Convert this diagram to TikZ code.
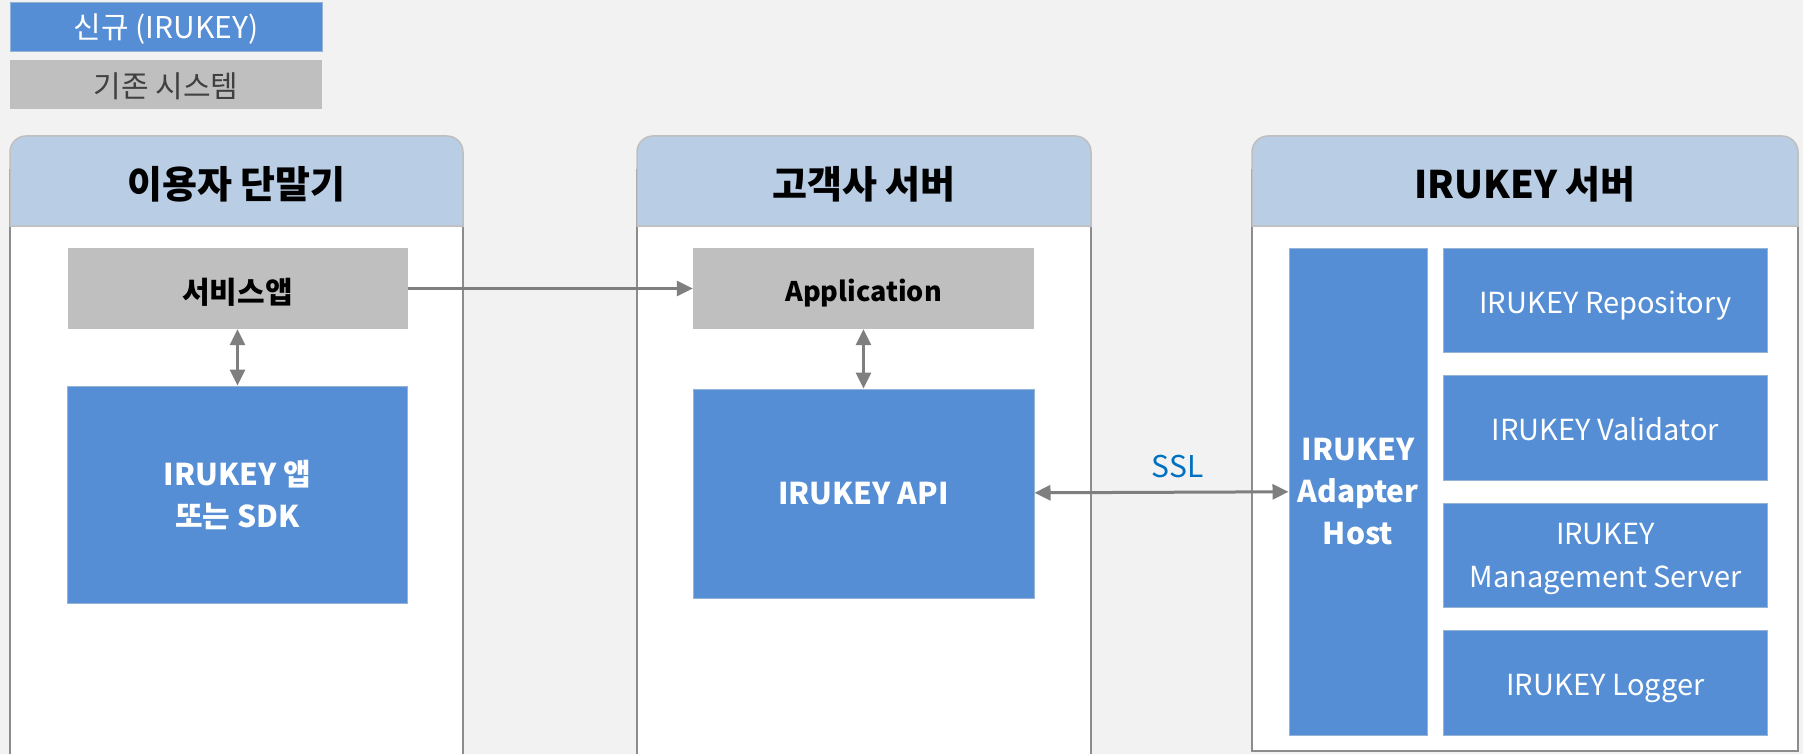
\documentclass[tikz,border=0pt]{standalone}
\usepackage{fontspec}
\setmainfont{Noto Sans CJK KR}
\usetikzlibrary{arrows.meta}
\definecolor{bggray}{HTML}{F2F2F2}
\definecolor{irublue}{HTML}{558ED5}
\definecolor{iruline}{HTML}{95B3D7}
\definecolor{oldgray}{HTML}{BFBFBF}
\definecolor{headblue}{HTML}{B9CDE5}
\definecolor{headline}{HTML}{BFBFBF}
\definecolor{bodyline}{HTML}{8C8C8C}
\definecolor{arrowgray}{HTML}{7F7F7F}
\definecolor{ssltext}{HTML}{0070C0}
\definecolor{legtext}{HTML}{404040}
\tikzset{
    newbox/.style={fill=irublue, draw=iruline, line width=1pt, text=white, align=center, inner sep=0pt},
    oldbox/.style={fill=oldgray, align=center, inner sep=0pt},
    panelbody/.style={fill=white, draw=bodyline, line width=2pt},
    panelhead/.style={fill=headblue, draw=headline, line width=1.5pt},
    headtext/.style={font=\fontsize{38}{44}\selectfont\bfseries},
    legfont/.style={font=\fontsize{30}{36}\selectfont},
    leftfont/.style={font=\fontsize{30}{42}\selectfont\bfseries},
    modfont/.style={font=\fontsize{29}{43}\selectfont},
    capline/.style={text height=#1, text depth=0pt},
    oneline/.style={capline=25.5pt},
    twoline/.style={text depth=0pt},
    conn/.style={draw=arrowgray, line width=3pt, -{Triangle[length=16pt,width=15pt]}},
    biconn/.style={draw=arrowgray, line width=3pt, {Triangle[length=16pt,width=15pt]}-{Triangle[length=16pt,width=15pt]}},
}
\begin{document}
\begin{tikzpicture}[x=1pt,y=-1pt]
    \useasboundingbox (0,0) rectangle (1803,754);
    \fill[bggray] (0,0) rectangle (1803,754);
    \node[newbox, legfont, capline=22pt, minimum width=312pt, minimum height=49pt] (legnew) at (166,27.5) {신규 (IRUKEY)};
    \node[oldbox, legfont, capline=26pt, text=legtext, minimum width=312pt, minimum height=49pt] (legold) at (166,84.5) {기존 시스템};
    \foreach \a/\b/\bot/\name/\title in {10/463/780/user/{이용자 단말기}, 637/1091/780/client/{고객사 서버}, 1252/1798/751/iruserver/{IRUKEY 서버}} {
        \draw[panelbody] (\a,170) rectangle (\b,\bot);
        \draw[panelhead] (\a,226) -- (\a,152) arc[start angle=180, end angle=270, radius=16]
            -- ({\b-16},136) arc[start angle=270, end angle=360, radius=16] -- (\b,226) -- cycle;
        \node[headtext] (\name) at ({(\a+\b)/2},184) {\title};
    }
    \node[oldbox, font=\fontsize{30}{36}\selectfont\bfseries, capline=30pt, minimum width=340pt, minimum height=81pt] (svcapp) at (237.5,288.5) {서비스앱};
    \node[newbox, leftfont, minimum width=340pt, minimum height=217pt] (sdk) at (237.5,494.5) {IRUKEY 앱\\또는 SDK};
    \node[oldbox, font=\fontsize{27}{36}\selectfont\bfseries, capline=25.5pt, minimum width=341pt, minimum height=81pt] (application) at (863.5,288.5) {Application};
    \node[newbox, leftfont, minimum width=341pt, minimum height=209pt] (api) at (863.5,493.5) {IRUKEY API};
    \node[newbox, leftfont, minimum width=138pt, minimum height=487pt] (adapter) at (1358,491.5) {IRUKEY\\Adapter\\Host};
    \foreach \i/\txt/\st in {0/{IRUKEY Repository}/oneline, 1/{IRUKEY Validator}/oneline, 2/{IRUKEY\\Management Server}/twoline, 3/{IRUKEY Logger}/oneline}
        \node[newbox, modfont, \st, minimum width=324pt, minimum height=104.5pt] (mod\i) at (1605.5,{300.25+127.5*\i}) {\txt};
    \draw[conn] (svcapp) -- (application);
    \draw[biconn] (svcapp) -- (sdk);
    \draw[biconn] (application) -- (api);
    \draw[biconn] (api) -- node[midway, xshift=16pt, yshift=25.5pt, text=ssltext, font=\fontsize{30}{36}\selectfont] (ssl) {SSL} (adapter);
\end{tikzpicture}
\end{document}
